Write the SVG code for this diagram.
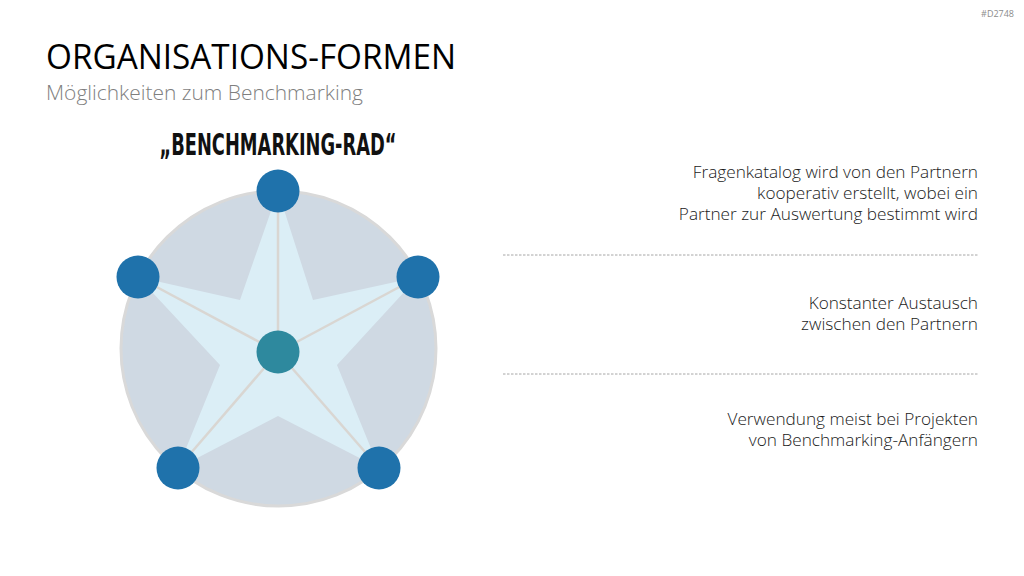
<svg xmlns="http://www.w3.org/2000/svg" width="1024" height="576" viewBox="0 0 1024 576">
<style>
.t{font-family:"Open Sans","Liberation Sans",sans-serif;font-weight:300}
.body{font-size:17.2px;fill:#1a1a1a;text-anchor:end}
.node{fill:#1f72ab}
.spoke{stroke:#d9d6d2;stroke-width:2.5}
.sep{stroke:#a6a6a6;stroke-width:1;stroke-dasharray:2.5 1.5}
</style>
<rect width="1024" height="576" fill="#fff"/>
<text x="1014" y="17" class="t" font-size="9" fill="#8c8c8c" text-anchor="end" style="font-weight:400">#D2748</text>
<text x="46" y="69" class="t" font-size="35" fill="#000" style="font-weight:400" textLength="410" lengthAdjust="spacingAndGlyphs">ORGANISATIONS-FORMEN</text>
<text x="46" y="100" class="t" font-size="20" fill="#7f7f7f" textLength="317" lengthAdjust="spacingAndGlyphs">Möglichkeiten zum Benchmarking</text>
<g id="wheel">
<circle cx="278.5" cy="348.5" r="157.5" fill="#cfd9e3" stroke="#d9d9d9" stroke-width="3"/>
<polygon points="278,191 313,300 418,277 337,365 379,468 278,416 178,468 220,365 138,277 240,300" fill="#dbeef6"/>
</g>
<text x="278" y="155" font-family="DejaVu Sans" font-weight="bold" font-stretch="condensed" font-size="31" fill="#111" text-anchor="middle" textLength="237" lengthAdjust="spacingAndGlyphs">„BENCHMARKING-RAD“</text>
<g id="connectors">
<line class="spoke" x1="278" y1="352" x2="278" y2="191"/>
<line class="spoke" x1="278" y1="352" x2="418" y2="277"/>
<line class="spoke" x1="278" y1="352" x2="138" y2="277"/>
<line class="spoke" x1="278" y1="352" x2="178" y2="468"/>
<line class="spoke" x1="278" y1="352" x2="379" y2="468"/>
</g>
<g id="n-top"><circle class="node" cx="278" cy="191" r="21.5"/></g>
<g id="n-left"><circle class="node" cx="138" cy="277" r="21.5"/></g>
<g id="n-right"><circle class="node" cx="418" cy="277" r="21.5"/></g>
<g id="n-bl"><circle class="node" cx="178" cy="468" r="21.5"/></g>
<g id="n-br"><circle class="node" cx="379" cy="468" r="21.5"/></g>
<g id="n-center"><circle cx="278" cy="352" r="21.5" fill="#2e899e"/></g>
<g id="text1" class="t body">
<text x="978" y="178">Fragenkatalog wird von den Partnern</text>
<text x="978" y="199">kooperativ erstellt, wobei ein</text>
<text x="978" y="220">Partner zur Auswertung bestimmt wird</text>
</g>
<line class="sep" x1="503" y1="255" x2="978" y2="255"/>
<g id="text2" class="t body">
<text x="978" y="309">Konstanter Austausch</text>
<text x="978" y="330">zwischen den Partnern</text>
</g>
<line class="sep" x1="503" y1="374" x2="978" y2="374"/>
<g id="text3" class="t body">
<text x="978" y="425">Verwendung meist bei Projekten</text>
<text x="978" y="446">von Benchmarking-Anfängern</text>
</g>
</svg>
